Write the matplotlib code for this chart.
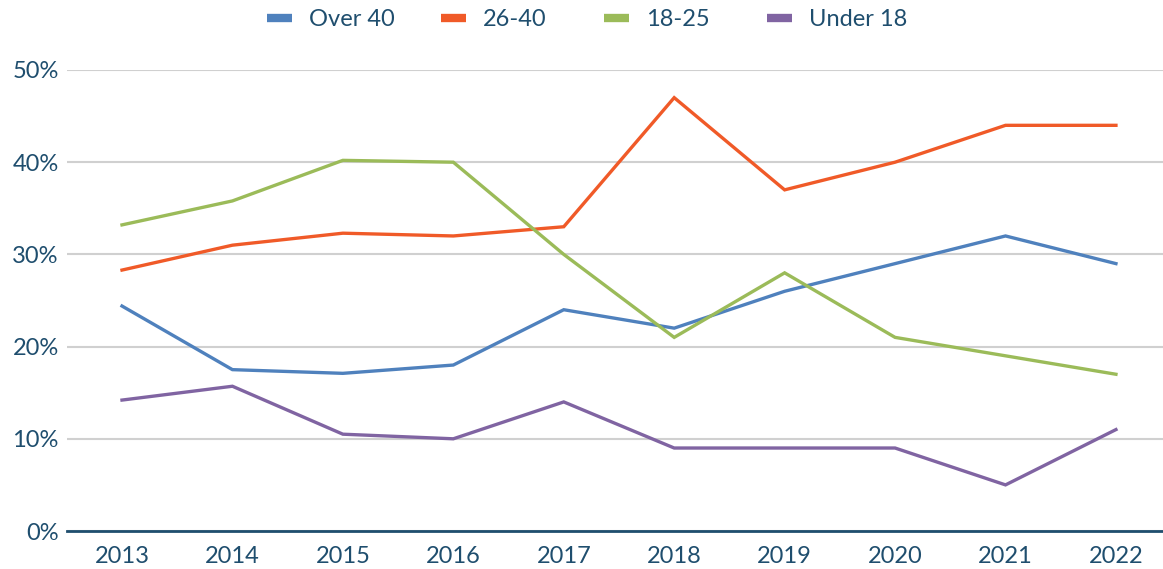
import matplotlib
matplotlib.use("Agg")
import matplotlib.pyplot as plt
from matplotlib.lines import Line2D
from matplotlib.ticker import FuncFormatter

years = [2013, 2014, 2015, 2016, 2017, 2018, 2019, 2020, 2021, 2022]
over40 = [24.4, 17.5, 17.1, 18.0, 24.0, 22.0, 26.0, 29.0, 32.0, 29.0]
age26_40 = [28.3, 31.0, 32.3, 32.0, 33.0, 47.0, 37.0, 40.0, 44.0, 44.0]
age18_25 = [33.2, 35.8, 40.2, 40.0, 30.0, 21.0, 28.0, 21.0, 19.0, 17.0]
under18 = [14.2, 15.7, 10.5, 10.0, 14.0, 9.0, 9.0, 9.0, 5.0, 11.0]
series_names = ["Over 40", "26-40", "18-25", "Under 18"]
colors = ["#4f81bd", "#f05a28", "#9bbb59", "#8064a2"]

text_color = "#1f4e6e"
plt.rcParams['font.family'] = ['Lato', 'DejaVu Sans']

W, H = 1163, 569
fig = plt.figure(figsize=(W / 100, H / 100), dpi=100)
ax = fig.add_axes([67/W, 1-531/H, 1-67/W, (531-70)/H])

for vals, c in zip([over40, age26_40, age18_25, under18], colors):
    ax.plot(years, vals, color=c, linewidth=2.4, solid_joinstyle='miter')

ax.set_ylim(0, 50)
ax.set_xlim(2012.502, 2022.426)
ax.set_yticks([0, 10, 20, 30, 40, 50])
ax.yaxis.set_major_formatter(FuncFormatter(lambda v, p: f"{int(v)}%"))
ax.set_xticks(years)
ax.set_xticklabels([str(y) for y in years])
ax.grid(axis='y', color='#d0d0d0', linewidth=1.5)
ax.set_axisbelow(True)
for s in ['top', 'right', 'left']:
    ax.spines[s].set_visible(False)
ax.spines['bottom'].set_color(text_color)
ax.spines['bottom'].set_linewidth(2)
ax.tick_params(axis='both', length=0, labelsize=17, colors=text_color)
ax.tick_params(axis='y', pad=6)
ax.tick_params(axis='x', pad=11)

# legend: one entry per series, placed like the reference
legend_x = [267, 441, 604, 767]
for name, c, lx in zip(series_names, colors, legend_x):
    h = Line2D([0], [0], color=c, linewidth=6, solid_capstyle='butt')
    fig.legend([h], [name], loc='center left', bbox_to_anchor=(lx / W, 1 - 20 / H),
               frameon=False, fontsize=17, labelcolor=text_color,
               handlelength=1.06, handletextpad=0.72, borderpad=0, borderaxespad=0)

fig.savefig("out.png", dpi=100)
